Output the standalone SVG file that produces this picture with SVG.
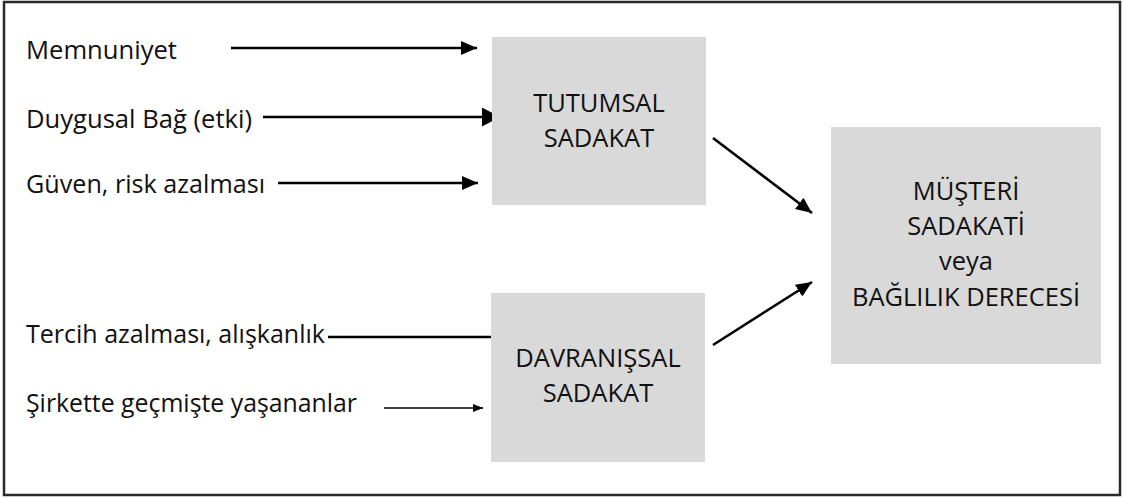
<svg xmlns="http://www.w3.org/2000/svg" width="1123" height="498" viewBox="0 0 1123 498">
<style>
.t{font-family:"Open Sans","Liberation Sans",sans-serif;font-size:25.5px;fill:#111}
.c{text-anchor:middle}
.box{fill:#d9d9d9}
.ln{stroke:#000;stroke-width:2.6;fill:none}
.thin{stroke:#000;stroke-width:1.3;fill:none}
</style>
<defs>
<marker id="ah" markerUnits="userSpaceOnUse" markerWidth="16" markerHeight="14" refX="16" refY="7" orient="auto"><path d="M0,0 L16,7 L0,14 z" fill="#000"/></marker>
<marker id="ahBig" markerUnits="userSpaceOnUse" markerWidth="18" markerHeight="19" refX="18" refY="9.5" orient="auto"><path d="M0,0 L18,9.5 L0,19 z" fill="#000"/></marker>
<marker id="ahSmall" markerUnits="userSpaceOnUse" markerWidth="10" markerHeight="8" refX="10" refY="4" orient="auto"><path d="M0,0 L10,4 L0,8 z" fill="#000"/></marker>
</defs>
<rect x="0" y="0" width="1123" height="498" fill="#fff"/>
<rect x="4" y="2" width="1116" height="493" fill="#fff" stroke="#2a2a2a" stroke-width="2.5"/>

<g id="labels">
<text class="t" x="26" y="59" textLength="151" lengthAdjust="spacingAndGlyphs">Memnuniyet</text>
<text class="t" x="26" y="128" textLength="226" lengthAdjust="spacingAndGlyphs">Duygusal Bağ (etki)</text>
<text class="t" x="26" y="193" textLength="239" lengthAdjust="spacingAndGlyphs">Güven, risk azalması</text>
<text class="t" x="26" y="343" textLength="299" lengthAdjust="spacingAndGlyphs">Tercih azalması, alışkanlık</text>
<text class="t" x="26" y="412" textLength="331" lengthAdjust="spacingAndGlyphs">Şirkette geçmişte yaşananlar</text>
</g>

<g id="connectors">
<line class="ln" x1="231" y1="48" x2="477" y2="48" marker-end="url(#ah)"/>
<line class="ln" x1="263" y1="117" x2="500" y2="117" marker-end="url(#ahBig)"/>
<line class="ln" x1="278" y1="183" x2="478" y2="183" marker-end="url(#ah)"/>
<line class="ln" x1="328" y1="337" x2="492" y2="337"/>
<line class="thin" x1="384" y1="408" x2="483" y2="408" marker-end="url(#ahSmall)"/>
<line class="ln" x1="713" y1="138" x2="812" y2="213" marker-end="url(#ah)"/>
<line class="ln" x1="713" y1="345" x2="812" y2="282" marker-end="url(#ah)"/>
</g>

<g id="tutumsal">
<rect class="box" x="492" y="37" width="214" height="168"/>
<text class="t c" x="599" y="112">TUTUMSAL</text>
<text class="t c" x="599" y="147">SADAKAT</text>
</g>

<g id="davranissal">
<rect class="box" x="491" y="293" width="214" height="169"/>
<text class="t c" x="598" y="367">DAVRANIŞSAL</text>
<text class="t c" x="598" y="402">SADAKAT</text>
</g>

<g id="musteri">
<rect class="box" x="831" y="127" width="270" height="237"/>
<text class="t c" x="966" y="200">MÜŞTERİ</text>
<text class="t c" x="966" y="235">SADAKATİ</text>
<text class="t c" x="966" y="270">veya</text>
<text class="t c" x="966" y="306">BAĞLILIK DERECESİ</text>
</g>
</svg>
